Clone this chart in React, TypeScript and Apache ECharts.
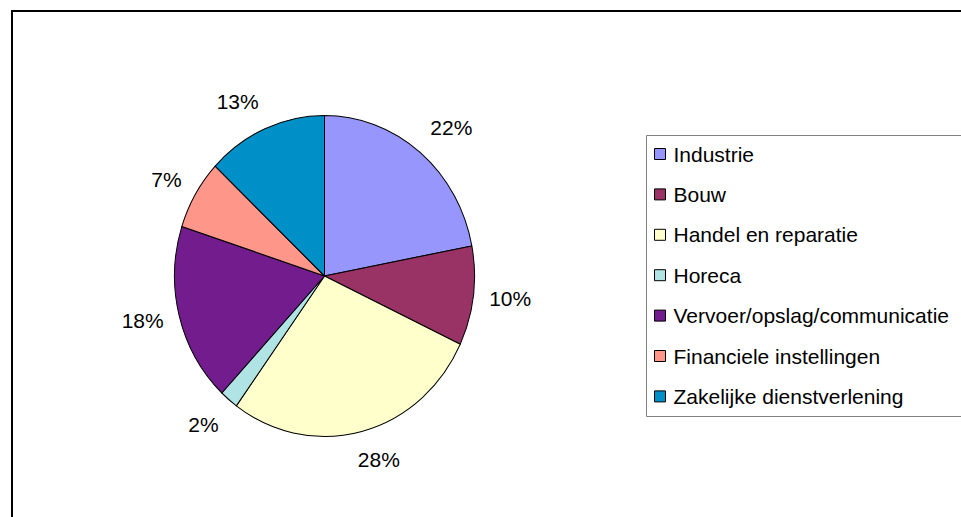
import React, { useEffect, useRef } from "react";
import * as echarts from "echarts";

const CATEGORIES = [
  "Industrie",
  "Bouw",
  "Handel en reparatie",
  "Horeca",
  "Vervoer/opslag/communicatie",
  "Financiele instellingen",
  "Zakelijke dienstverlening",
];
const SHARES = [22, 10, 28, 2, 18, 7, 13];
const COLORS = ["#9696FD", "#993366", "#FFFFCC", "#B0E4E4", "#721C8E", "#FF968A", "#0090C8"];

const FONT = "'Liberation Sans', Arial, sans-serif";
const CX = 324.5;
const CY = 276;
const R = 150;
const SCALE_Y = 1.07;
const LABEL_RX = 166;
const LABEL_RY = 179;

export default function App() {
  const pieRef = useRef<HTMLDivElement>(null);
  const topRef = useRef<HTMLDivElement>(null);

  useEffect(() => {
    const pieChart = echarts.init(pieRef.current!, null, { renderer: "svg" });
    const topChart = echarts.init(topRef.current!, null, { renderer: "svg" });

    pieChart.setOption({
      animation: false,
      series: [
        {
          type: "pie",
          center: [CX, CY],
          radius: R,
          startAngle: 90,
          clockwise: true,
          silent: true,
          label: { show: false },
          labelLine: { show: false },
          itemStyle: { borderColor: "#000", borderWidth: 1 },
          data: CATEGORIES.map((name, i) => ({
            name,
            value: SHARES[i],
            itemStyle: { color: COLORS[i] },
          })),
        },
      ],
    });

    const total = SHARES.reduce((a, b) => a + b, 0);
    const clamp = (v: number, lo = -1, hi = 1) => Math.max(lo, Math.min(hi, v));

    topChart.setOption({
      animation: false,
      backgroundColor: "transparent",
      graphic: [
        {
          type: "rect",
          shape: { x: 12, y: 11, width: 1200, height: 1200 },
          style: { fill: "rgba(0,0,0,0)", stroke: "#000", lineWidth: 2 },
          silent: true,
          z: -10,
        },
        {
          type: "rect",
          shape: { x: 646.5, y: 135.5, width: 500, height: 281 },
          style: { fill: "rgba(0,0,0,0)", stroke: "#808080", lineWidth: 1 },
          silent: true,
          z: -10,
        },
      ],
      legend: {
        orient: "vertical",
        left: 654,
        top: 143.5,
        padding: 0,
        itemWidth: 11,
        itemHeight: 11,
        itemGap: 19.4,
        icon: "rect",
        selectedMode: false,
        textStyle: {
          fontFamily: FONT,
          fontSize: 21,
          lineHeight: 20,
          color: "#000",
          padding: [0, 0, 0, 3],
        },
        data: CATEGORIES.map((name, i) => ({
          name,
          itemStyle: { color: COLORS[i], borderColor: "#000", borderWidth: 1, opacity: 1 },
        })),
      },
      series: [
        {
          type: "pie",
          center: [CX, CY],
          radius: R,
          startAngle: 90,
          clockwise: true,
          silent: true,
          avoidLabelOverlap: false,
          itemStyle: { color: "rgba(0,0,0,0)", borderWidth: 0 },
          label: {
            show: true,
            position: "outside",
            formatter: "{c}%",
            fontFamily: FONT,
            fontSize: 21,
            color: "#000",
          },
          labelLine: { show: false },
          labelLayout: (params: any) => {
            const i = params.dataIndex;
            let before = 0;
            for (let k = 0; k < i; k++) before += SHARES[k];
            const mid = ((before + SHARES[i] / 2) / total) * Math.PI * 2;
            const s = Math.sin(mid);
            const c = Math.cos(mid);
            const w = params.labelRect.width;
            const h = params.labelRect.height;
            const fx = clamp(2.5 * s);
            const fy = Math.sign(c) * clamp((Math.abs(c) - 0.3) / 0.4, 0, 1);
            return {
              x: CX + LABEL_RX * s + (w / 2) * fx,
              y: CY - LABEL_RY * c - (h / 2) * fy,
              align: "center",
              verticalAlign: "middle",
            };
          },
          data: CATEGORIES.map((name, i) => ({
            name,
            value: SHARES[i],
          })),
        },
      ],
    });

    return () => {
      pieChart.dispose();
      topChart.dispose();
    };
  }, []);

  return (
    <div
      style={{
        position: "fixed",
        left: 0,
        top: 0,
        width: 961,
        height: 517,
        background: "#fff",
        overflow: "hidden",
      }}
    >
      <div
        ref={pieRef}
        style={{
          position: "absolute",
          left: 0,
          top: 0,
          width: 961,
          height: 517,
          transform: `scaleY(${SCALE_Y})`,
          transformOrigin: `${CX}px ${CY}px`,
        }}
      />
      <div
        ref={topRef}
        style={{ position: "absolute", left: 0, top: 0, width: 961, height: 517 }}
      />
    </div>
  );
}
